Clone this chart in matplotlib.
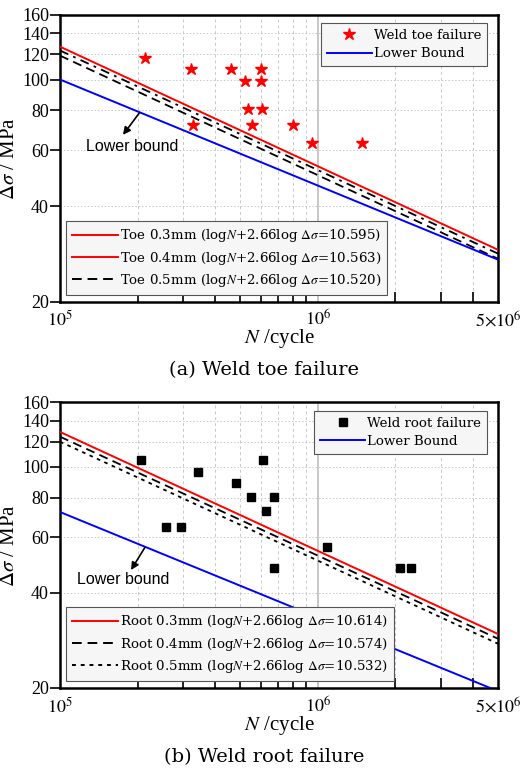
import numpy as np
import matplotlib
matplotlib.use('Agg')
import matplotlib.pyplot as plt
from matplotlib.lines import Line2D

plt.rcParams['font.family'] = ['Liberation Serif', 'DejaVu Serif']
plt.rcParams['mathtext.fontset'] = 'stix'

# ---- data ----
# weld toe failure tests (N, stress range MPa)
toe_N = [2.14e5, 3.21e5, 4.59e5, 6.02e5, 5.22e5, 6.02e5, 5.38e5, 6.07e5,
         3.27e5, 5.54e5, 8.04e5, 9.52e5, 1.48e6]
toe_S = [117, 108, 108, 108, 99, 99, 81, 81, 72, 72, 72, 63, 63]

# weld root failure tests
root_N = [2.06e5, 2.57e5, 2.94e5, 3.42e5, 4.82e5, 5.49e5, 6.13e5, 6.28e5,
          6.75e5, 6.75e5, 1.086e6, 2.08e6, 2.29e6]
root_S = [105, 64.5, 64.5, 96.5, 89, 80.5, 105, 72.5, 80.5, 48, 56, 48, 48]

# S-N curves  logN + m log(dS) = C
slope_m = 2.66
toe_C = [10.595, 10.563, 10.520]
toe_names = ['Toe 0.3mm', 'Toe 0.4mm', 'Toe 0.5mm']
root_C = [10.614, 10.574, 10.532]
root_names = ['Root 0.3mm', 'Root 0.4mm', 'Root 0.5mm']

# lower bounds (m = 3), stress range at N = 1e5
lb_m = 3.0
toe_lb_S0 = 100.0
root_lb_S0 = 72.0

N_min, N_max = 1e5, 5e6
S_min, S_max = 20, 160
y_ticks = [20, 40, 60, 80, 100, 120, 140, 160]

LEG_FONT = 'DejaVu Serif'


def sn(C, m, N):
    return 10 ** ((C - np.log10(N)) / m)


def lower_bound(S0, N):
    return S0 * (N / N_min) ** (-1.0 / lb_m)


def setup_axes(ax):
    ax.set_xscale('log')
    ax.set_yscale('log')
    ax.set_xlim(N_min, N_max)
    ax.set_ylim(S_min, S_max)
    ax.set_yticks(y_ticks)
    ax.set_yticklabels([str(v) for v in y_ticks])
    ax.yaxis.set_minor_locator(matplotlib.ticker.NullLocator())
    ax.set_xticks([1e5, 1e6, 5e6])
    ax.set_xticklabels(['$10^5$', '$10^6$', r'$5{\times}10^6$'])
    minors = [k * 1e5 for k in range(2, 10)] + [k * 1e6 for k in range(2, 5)]
    ax.set_xticks(minors, minor=True)
    ax.tick_params(axis='x', which='both', direction='in', labelsize=13, pad=6)
    ax.tick_params(axis='x', which='major', length=0)
    ax.tick_params(axis='x', which='minor', length=7, width=1.2)
    ax.tick_params(axis='y', direction='out', length=7, width=1.2, labelsize=13, pad=1)
    ax.grid(True, which='both', axis='x', ls=(0, (3, 3)), color='#c8c8c8', lw=0.7)
    ax.grid(True, which='major', axis='y', ls=(0, (1.5, 2)), color='#c8c8c8', lw=0.7)
    ax.axvline(1e6, color='#bdbdbd', lw=1.2, zorder=1)
    for s in ax.spines.values():
        s.set_linewidth(1.8)
    ax.set_xlabel('$N$ /cycle', fontsize=15, labelpad=-2)
    ax.set_ylabel(r'$\Delta\sigma$ / MPa', fontsize=15, labelpad=2)


def make_legend(ax, handles, labels, loc, anchor):
    leg = ax.legend(handles, labels, loc=loc, bbox_to_anchor=anchor,
                    prop={'family': LEG_FONT, 'size': 9.6}, fancybox=False,
                    edgecolor='#555555', framealpha=1, facecolor='#f6f6f6',
                    handlelength=3.4, handletextpad=0.15, borderpad=0.45,
                    labelspacing=0.4, borderaxespad=0.3)
    leg.get_frame().set_linewidth(0.8)
    return leg


fig = plt.figure(figsize=(5.22, 7.7), dpi=100)
ax1 = fig.add_axes([0.115, 0.608, 0.839, 0.373])
ax2 = fig.add_axes([0.115, 0.1065, 0.839, 0.371])

N = np.logspace(5, np.log10(N_max), 200)
eq = r' (log$N$+2.66log $\Delta\sigma$=%.3f)'
arrow = dict(arrowstyle='-|>', color='black', lw=1.2, shrinkA=0, shrinkB=0,
             mutation_scale=11)

# ---- (a) weld toe ----
setup_axes(ax1)
ax1.plot(N, sn(toe_C[0], slope_m, N), color='red', lw=1.4, zorder=3)
ax1.plot(N, sn(toe_C[1], slope_m, N), color='black', lw=1.3, ls=(0, (5, 3, 1.5, 3)), zorder=3)
ax1.plot(N, sn(toe_C[2], slope_m, N), color='black', lw=1.3, ls=(0, (5, 3)), zorder=3)
ax1.plot(N, lower_bound(toe_lb_S0, N), color='blue', lw=1.4, zorder=3)
ax1.plot(toe_N, toe_S, ls='none', marker='*', ms=9, color='red', zorder=4)

h1 = [Line2D([], [], ls='none', marker='*', ms=9, color='red'),
      Line2D([], [], color='blue', lw=1.4)]
leg1 = make_legend(ax1, h1, ['Weld toe failure', 'Lower Bound'],
                   'upper right', (0.985, 0.985))
ax1.add_artist(leg1)
h2 = [Line2D([], [], color='red', lw=1.4),
      Line2D([], [], color='red', lw=1.4),
      Line2D([], [], color='black', lw=1.4, ls=(0, (5, 3)))]
make_legend(ax1, h2, [n + eq % c for n, c in zip(toe_names, toe_C)],
            'lower left', (0.005, 0.01))

ax1.text(1.9e5, 61.5, 'Lower bound', fontsize=11.5, family='Liberation Sans',
         ha='center', va='center')
ax1.annotate('', xy=(1.755e5, 67), xytext=(2.03e5, 78.5), arrowprops=arrow)

# ---- (b) weld root ----
setup_axes(ax2)
ax2.plot(N, sn(root_C[0], slope_m, N), color='red', lw=1.4, zorder=3)
ax2.plot(N, sn(root_C[1], slope_m, N), color='black', lw=1.3, ls=(0, (5, 3)), zorder=3)
ax2.plot(N, sn(root_C[2], slope_m, N), color='black', lw=1.3, ls=(0, (2, 2.5)), zorder=3)
ax2.plot(N, lower_bound(root_lb_S0, N), color='blue', lw=1.4, zorder=3)
ax2.plot(root_N, root_S, ls='none', marker='s', ms=6, color='black', zorder=4)

h3 = [Line2D([], [], ls='none', marker='s', ms=6, color='black'),
      Line2D([], [], color='blue', lw=1.4)]
leg3 = make_legend(ax2, h3, ['Weld root failure', 'Lower Bound'],
                   'upper right', (0.985, 0.985))
ax2.add_artist(leg3)
h4 = [Line2D([], [], color='red', lw=1.4),
      Line2D([], [], color='black', lw=1.4, ls=(0, (5, 3))),
      Line2D([], [], color='black', lw=1.4, ls=(0, (2, 2.5)))]
make_legend(ax2, h4, [n + eq % c for n, c in zip(root_names, root_C)],
            'lower left', (0.005, 0.01))

ax2.text(1.755e5, 43.9, 'Lower bound', fontsize=11.5, family='Liberation Sans',
         ha='center', va='center')
ax2.annotate('', xy=(1.885e5, 47.2), xytext=(2.13e5, 55.5), arrowprops=arrow)

fig.text(0.506, 1 - 370 / 770, '(a) Weld toe failure', fontsize=14,
         family=LEG_FONT, ha='center', va='center')
fig.text(0.506, 1 - 757 / 770, '(b) Weld root failure', fontsize=14,
         family=LEG_FONT, ha='center', va='center')

fig.savefig('out.png', dpi=100)
